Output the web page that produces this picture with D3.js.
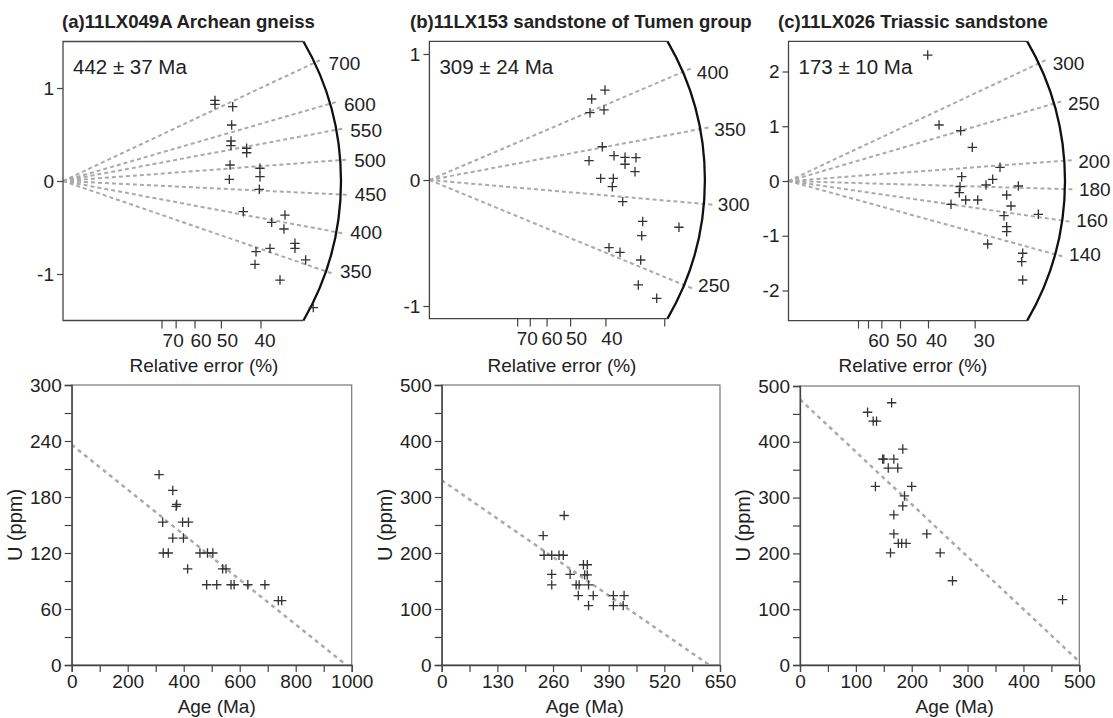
<!DOCTYPE html>
<html>
<head>
<meta charset="utf-8">
<script src="https://cdn.jsdelivr.net/npm/d3@7"></script>
<style>
  body { margin: 0; background: #fff; }
  svg { font-family: "Liberation Sans", Arial, sans-serif; }
</style>
</head>
<body>
<div id="chart"></div>
<script>
// radial plots: [precision 1/sigma, standardised estimate]
const radialA = [
  [1.919, 0.866], [1.919, 0.823], [2.143, 0.799], [2.130, 0.602], [2.121, 0.430],
  [2.121, 0.380], [2.319, 0.352], [2.319, 0.304], [2.109, 0.172], [2.100, 0.018],
  [2.487, 0.137], [2.487, 0.046], [2.479, -0.089], [2.277, -0.330], [2.803, -0.366],
  [2.635, -0.444], [2.790, -0.516], [2.929, -0.670], [2.929, -0.724], [2.614, -0.724],
  [2.437, -0.760], [2.424, -0.896], [3.064, -0.849], [2.740, -1.065], [3.160, -1.362]
];
const radialB = [
  [2.487, 0.714], [2.299, 0.643], [2.275, 0.534], [2.473, 0.556], [2.449, 0.264],
  [2.261, 0.153], [2.615, 0.193], [2.771, 0.180], [2.926, 0.177], [2.771, 0.125],
  [2.912, 0.066], [2.426, 0.013], [2.605, 0.013], [2.591, -0.053], [2.738, -0.172],
  [3.021, -0.329], [3.535, -0.375], [3.007, -0.442], [2.544, -0.537], [2.700, -0.574],
  [2.993, -0.635], [2.959, -0.833], [3.220, -0.939]
];
const radialC = [
  [2.486, 2.301], [2.688, 1.023], [3.075, 0.919], [3.282, 0.616], [3.777, 0.250],
  [3.093, 0.079], [3.646, 0.031], [3.527, -0.073], [3.063, -0.104], [4.104, -0.091],
  [3.050, -0.214], [3.896, -0.256], [3.164, -0.347], [3.379, -0.347], [2.902, -0.426],
  [3.973, -0.457], [4.461, -0.608], [3.848, -0.634], [3.896, -0.835], [3.896, -0.926],
  [3.557, -1.151], [4.182, -1.320], [4.164, -1.474], [4.182, -1.808]
];

const rayAgesA = [350, 400, 450, 500, 550, 600, 700];
const rayAgesB = [250, 300, 350, 400];
const rayAgesC = [140, 160, 180, 200, 250, 300];
const refAges = [469, 315, 185.5];

const errTicksA = [80, 70, 60, 50, 40];
const errTicksB = [80, 70, 60, 50, 40, 30];
const errTicksC = [80, 70, 60, 50, 40, 30];
const errLabelsA = [70, 60, 50, 40];
const errLabelsB = [70, 60, 50, 40];
const errLabelsC = [60, 50, 40, 30];

const zTicksA = [-1, 0, 1];
const zTicksB = [-1, 0, 1];
const zTicksC = [-2, -1, 0, 1, 2];

const titles = [
  "(a)11LX049A Archean gneiss",
  "(b)11LX153 sandstone of Tumen group",
  "(c)11LX026 Triassic sandstone"
];
const centralAges = ["442 ± 37 Ma", "309 ± 24 Ma", "173 ± 10 Ma"];

// age vs U scatter: [age (Ma), U (ppm)]
const ageUA = [
  [312, 204], [361, 187], [373, 170], [375, 172], [325, 153], [396, 153], [417, 153],
  [361, 136], [399, 136], [327, 120], [345, 120], [458, 120], [485, 120], [504, 120],
  [414, 103], [539, 103], [551, 103], [482, 86], [518, 86], [569, 86], [580, 86],
  [629, 86], [690, 86], [738, 69], [750, 69]
];
const ageUB = [
  [286, 267], [237, 231], [239, 196], [257, 196], [274, 196], [284, 196],
  [257, 162], [257, 143], [300, 162], [314, 143], [321, 143], [319, 124],
  [331, 179], [340, 179], [334, 161], [340, 161], [343, 143], [354, 124],
  [343, 106], [401, 124], [426, 124], [401, 106], [424, 106]
];
const ageUC = [
  [164, 470], [121, 453], [131, 437], [137, 437], [184, 387], [148, 369], [150, 369],
  [168, 369], [158, 353], [175, 353], [135, 320], [200, 320], [187, 303], [184, 285],
  [168, 269], [168, 235], [227, 235], [176, 218], [182, 218], [190, 218], [162, 201],
  [251, 201], [273, 151], [470, 117]
];
const trendA = [[0, 236], [980, 0]];
const trendB = [[0, 330], [625, 0]];
const trendC = [[0, 476], [500, 6]];

const ageTicksA = d3.range(0, 1001, 100);
const ageTicksB = d3.range(0, 651, 65);
const ageTicksC = d3.range(0, 501, 50);
const uTicksA = d3.range(0, 301, 30);
const uTicksB = d3.range(0, 501, 50);
const uTicksC = d3.range(0, 501, 50);

const width = 1113;
const height = 718;
const ink = '#222';

const svg = d3.select('#chart')
  .append('svg')
  .attr('width', width)
  .attr('height', height);

const cross = 'M-4.7,0H4.7M0,-4.7V4.7';

function drawRadial(cfg, pts, rayAges, refAge, errTicks, errLabels, zTicks, title, central) {
  const g = svg.append('g');
  const x = d3.scaleLinear().domain([0, cfg.R / cfg.k]).range([cfg.left, cfg.left + cfg.R]);
  const y = d3.scaleLinear().domain(cfg.zDomain).range([cfg.bottom, cfg.top]);
  const ox = x(0), oy = y(0);
  const ky = y(0) - y(1);

  // rays
  rayAges.forEach(t => {
    const s = Math.log(t / refAge);
    const dx = cfg.k, dy = -ky * s;
    const len = Math.hypot(dx, dy);
    const ux = dx / len, uy = dy / len;
    g.append('line')
      .attr('x1', ox).attr('y1', oy)
      .attr('x2', ox + ux * (cfg.R + 9)).attr('y2', oy + uy * (cfg.R + 9))
      .attr('stroke', '#aaa')
      .attr('stroke-width', 2)
      .attr('stroke-dasharray', '4,3');
    g.append('text')
      .attr('x', ox + ux * cfg.R + 14)
      .attr('y', oy + uy * cfg.R)
      .attr('dy', '0.36em')
      .attr('font-size', 19)
      .attr('fill', ink)
      .text(t);
  });

  // frame + arc
  const hTop = oy - cfg.top, hBot = cfg.bottom - oy;
  const xTop = ox + Math.sqrt(cfg.R * cfg.R - hTop * hTop);
  const xBot = ox + Math.sqrt(cfg.R * cfg.R - hBot * hBot);
  g.append('path')
    .attr('d', `M${xTop},${cfg.top}H${ox}V${cfg.bottom}H${xBot}`)
    .attr('fill', 'none')
    .attr('stroke', '#444')
    .attr('stroke-width', 1.3);
  g.append('path')
    .attr('d', `M${xTop},${cfg.top}A${cfg.R},${cfg.R} 0 0 1 ${xBot},${cfg.bottom}`)
    .attr('fill', 'none')
    .attr('stroke', '#111')
    .attr('stroke-width', 2.3);

  // y axis
  const ya = g.append('g')
    .attr('transform', `translate(${ox},0)`)
    .call(d3.axisLeft(y).tickValues(zTicks).tickSize(6).tickPadding(3).tickFormat(d => String(d)));
  ya.select('.domain').remove();
  ya.selectAll('line').attr('stroke', '#444').attr('stroke-width', 1.2);
  ya.selectAll('text').attr('font-size', 19).attr('fill', ink).attr('font-family', null);

  // relative error ticks
  errTicks.forEach(e => {
    g.append('line')
      .attr('x1', x(100 / e)).attr('x2', x(100 / e))
      .attr('y1', cfg.bottom).attr('y2', cfg.bottom + 8)
      .attr('stroke', '#444')
      .attr('stroke-width', 1.2);
  });
  errLabels.forEach((e, i) => {
    g.append('text')
      .attr('x', x(100 / e) + cfg.labelDx[i])
      .attr('y', cfg.bottom + 26)
      .attr('text-anchor', 'middle')
      .attr('font-size', 19)
      .attr('fill', ink)
      .text(e);
  });
  g.append('text')
    .attr('x', cfg.relX)
    .attr('y', 372)
    .attr('text-anchor', 'middle')
    .attr('font-size', 19)
    .attr('fill', ink)
    .text('Relative error (%)');

  // points
  g.selectAll('.pt')
    .data(pts)
    .enter()
    .append('path')
    .attr('class', 'pt')
    .attr('transform', d => `translate(${x(d[0])},${y(d[1])})`)
    .attr('d', cross)
    .attr('stroke', '#333')
    .attr('stroke-width', 1.3);

  g.append('text')
    .attr('x', cfg.titleX)
    .attr('y', 28)
    .attr('font-size', 18.6)
    .attr('font-weight', 'bold')
    .attr('fill', ink)
    .text(title);
  g.append('text')
    .attr('x', cfg.left + 10)
    .attr('y', 74)
    .attr('font-size', 20.5)
    .attr('fill', ink)
    .text(central);
}

function drawScatter(cfg, pts, trend, xTicks, xStep, yTicks, yStep) {
  const g = svg.append('g');
  const x = d3.scaleLinear().domain([0, xTicks[xTicks.length - 1]]).range([cfg.left, cfg.right]);
  const y = d3.scaleLinear().domain([0, yTicks[yTicks.length - 1]]).range([cfg.bottom, cfg.top]);

  g.append('rect')
    .attr('x', cfg.left).attr('y', cfg.top)
    .attr('width', cfg.right - cfg.left).attr('height', cfg.bottom - cfg.top)
    .attr('fill', 'none')
    .attr('stroke', '#777')
    .attr('stroke-width', 1.2);

  g.append('path')
    .datum(trend)
    .attr('d', d3.line().x(d => x(d[0])).y(d => y(d[1])))
    .attr('fill', 'none')
    .attr('stroke', '#aaa')
    .attr('stroke-width', 2.5)
    .attr('stroke-dasharray', '4,4');

  const xa = g.append('g')
    .attr('transform', `translate(0,${cfg.bottom})`)
    .call(d3.axisBottom(x).tickValues(xTicks).tickSize(7).tickPadding(3)
      .tickFormat(d => d % xStep === 0 ? d : ''));
  const ya = g.append('g')
    .attr('transform', `translate(${cfg.left},0)`)
    .call(d3.axisLeft(y).tickValues(yTicks).tickSize(7).tickPadding(3)
      .tickFormat(d => d % yStep === 0 ? d : ''));
  [xa, ya].forEach(a => {
    a.select('.domain').attr('stroke', '#444').attr('stroke-width', 1.3);
    a.selectAll('line').attr('stroke', '#444').attr('stroke-width', 1.2);
    a.selectAll('text').attr('font-size', 19).attr('fill', ink).attr('font-family', null);
  });

  g.selectAll('.pt')
    .data(pts)
    .enter()
    .append('path')
    .attr('class', 'pt')
    .attr('transform', d => `translate(${x(d[0])},${y(d[1])})`)
    .attr('d', cross)
    .attr('stroke', '#333')
    .attr('stroke-width', 1.3);

  g.append('text')
    .attr('x', (cfg.left + cfg.right) / 2 + cfg.labelShift)
    .attr('y', 713)
    .attr('text-anchor', 'middle')
    .attr('font-size', 19)
    .attr('fill', ink)
    .text('Age (Ma)');
  g.append('text')
    .attr('transform', `translate(${cfg.left - 50},${(cfg.top + cfg.bottom) / 2}) rotate(-90)`)
    .attr('text-anchor', 'middle')
    .attr('font-size', 20)
    .attr('fill', ink)
    .text('U (ppm)');
}

drawRadial({ left: 63, k: 79.2, R: 278, top: 41.5, bottom: 320.5, zDomain: [-1.5, 1.5],
    titleX: 62, relX: 204, labelDx: [-3, 6, 6, 4] },
  radialA, rayAgesA, refAges[0], errTicksA, errLabelsA, zTicksA, titles[0], centralAges[0]);
drawRadial({ left: 429.4, k: 70.6, R: 275.5, top: 41.4, bottom: 318.6, zDomain: [-1.1, 1.1],
    titleX: 410, relX: 562, labelDx: [-3, 5, 6, 6] },
  radialB, rayAgesB, refAges[1], errTicksB, errLabelsB, zTicksB, titles[1], centralAges[1]);
drawRadial({ left: 788.5, k: 56, R: 276.5, top: 41.4, bottom: 320.6, zDomain: [-2.55, 2.55],
    titleX: 778, relX: 913, labelDx: [-3, 6, 8, 9] },
  radialC, rayAgesC, refAges[2], errTicksC, errLabelsC, zTicksC, titles[2], centralAges[2]);

drawScatter({ left: 71.7, right: 351.7, top: 385, bottom: 665, labelShift: 5 },
  ageUA, trendA, ageTicksA, 200, uTicksA, 60);
drawScatter({ left: 441.7, right: 720, top: 385, bottom: 665, labelShift: 4 },
  ageUB, trendB, ageTicksB, 130, uTicksB, 100);
drawScatter({ left: 800, right: 1079.3, top: 386, bottom: 665, labelShift: 15 },
  ageUC, trendC, ageTicksC, 100, uTicksC, 100);
</script>
</body>
</html>
